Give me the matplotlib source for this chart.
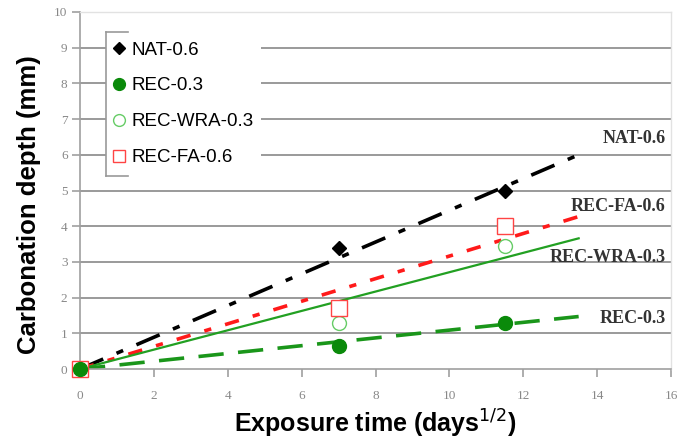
import matplotlib
matplotlib.use("Agg")
import matplotlib.pyplot as plt
from matplotlib.lines import Line2D

# ---- data ----
x_pts = [0, 7.0, 11.5]
nat_06 = [0, 3.4, 5.0]
rec_03 = [0, 0.65, 1.3]
rec_wra_03 = [0, 1.3, 3.45]
rec_fa_06 = [0, 1.7, 4.0]

fit_x = [0, 13.5]
nat_fit = [0, 6.0]
rec_fit = [0, 1.47]
wra_fit = [0, 3.66]
fa_fit = [0, 4.27]

series_names = ["NAT-0.6", "REC-0.3", "REC-WRA-0.3", "REC-FA-0.6"]
label_y = [6.45, 1.42, 3.13, 4.56]
x_ticks = list(range(0, 17, 2))
y_ticks = list(range(0, 11))

fig = plt.figure(figsize=(6.8, 4.46), dpi=100)
ax = fig.add_axes([80/680, 1-369/446, (671-80)/680, (369-12)/446])
ax.set_xlim(0, 16)
ax.set_ylim(0, 10)

grid_c = "#9a9a9a"
for yv in y_ticks[1:10]:
    ax.axhline(yv, color=grid_c, lw=1.4, zorder=0)

# fit lines
ax.plot(fit_x, nat_fit, color="black", lw=2.6, dashes=(7, 4, 2, 4), zorder=2)
ax.plot(fit_x, fa_fit, color="#ff1a1a", lw=2.6, dashes=(4, 4, 2, 4), zorder=2)
ax.plot(fit_x, wra_fit, color="#22a022", lw=1.6, zorder=2)
ax.plot(fit_x, rec_fit, color="#1a961a", lw=2.6, dashes=(7, 4), zorder=2)

# points
h1, = ax.plot(x_pts, nat_06, ls="none", marker="D", ms=7, color="black", zorder=4, clip_on=False)
h2, = ax.plot(x_pts, rec_03, ls="none", marker="o", ms=10, color="#0a8a0a", zorder=4, clip_on=False)
h3, = ax.plot(x_pts, rec_wra_03, ls="none", marker="o", ms=10, mfc="white", mec="#66cc66", mew=1.0, zorder=3, clip_on=False)
h4, = ax.plot(x_pts, rec_fa_06, ls="none", marker="s", ms=11, mfc="white", mec="#ff4444", mew=1.0, zorder=3, clip_on=False)

# line labels
for name, yv in zip(series_names, label_y):
    ax.text(15.85, yv, name, ha="right", va="center", family="Liberation Serif",
            fontweight="bold", fontsize=13, color="#333333", zorder=5)

# spines / ticks
for s in ["top", "right"]:
    ax.spines[s].set_color("#e2e2e2")
    ax.spines[s].set_linewidth(1.0)
for s in ["left", "bottom"]:
    ax.spines[s].set_color("#a0a0a0")
    ax.spines[s].set_linewidth(1.2)
ax.set_xticks(x_ticks)
ax.set_yticks(y_ticks)
ax.tick_params(axis="both", direction="out", length=6, width=1.2, color="#a0a0a0",
               labelcolor="#888888", labelsize=9.5)
for lab in ax.get_xticklabels() + ax.get_yticklabels():
    lab.set_family("Liberation Serif")
ax.tick_params(axis="x", pad=9)
ax.tick_params(axis="y", pad=3)

ax.set_xlabel("Exposure time (days$^{1/2}$)", family="Liberation Sans", fontweight="bold",
              fontsize=18, labelpad=4)
ax.set_ylabel("Carbonation depth (mm)", family="Liberation Sans", fontweight="bold",
              fontsize=18.5)
ax.yaxis.set_label_coords(-0.066, 0.46)

leg = ax.legend([h1, h2, h3, h4], series_names, loc="upper left",
                bbox_to_anchor=((106-80)/591, 1-(34-12)/357), borderaxespad=0, frameon=True,
                prop={"family": "Liberation Sans", "size": 13.5},
                handlelength=0.6, handletextpad=0.35, labelspacing=1.0,
                borderpad=0.4, markerscale=0.85, fancybox=False)
leg.get_frame().set_facecolor("white")
leg.get_frame().set_edgecolor("none")
leg.get_frame().set_alpha(1)
leg.set_zorder(6)

# bracket-like legend border
fig.add_artist(Line2D([106/680, 106/680], [1-32/446, 1-176/446], color="#999999", lw=1.2, zorder=7))
fig.add_artist(Line2D([106/680, 128/680], [1-32/446, 1-32/446], color="#999999", lw=1.2, zorder=7))
fig.add_artist(Line2D([106/680, 128/680], [1-176/446, 1-176/446], color="#999999", lw=1.2, zorder=7))

fig.savefig("out.png", dpi=100)
